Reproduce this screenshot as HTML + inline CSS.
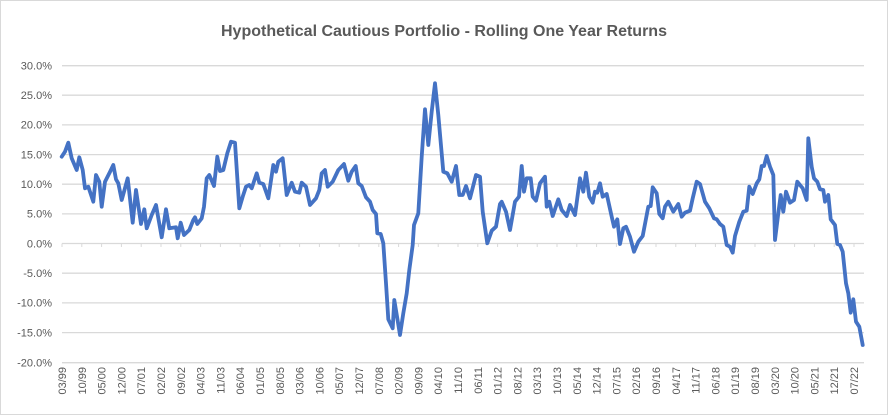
<!DOCTYPE html>
<html><head><meta charset="utf-8"><style>
html,body{margin:0;padding:0;background:#fff}
svg{display:block}
text{font-family:"Liberation Sans",sans-serif;fill:#595959}
</style></head><body>
<svg width="888" height="415" viewBox="0 0 888 415" xmlns="http://www.w3.org/2000/svg">
<rect x="0.5" y="0.5" width="887" height="414" fill="#fff" stroke="#d9d9d9"/>
<text x="444" y="36" text-anchor="middle" font-size="16" font-weight="bold" style="fill:#595959">Hypothetical Cautious Portfolio - Rolling One Year Returns</text>
<g stroke="#d9d9d9" stroke-width="1.3">
<line x1="62" x2="864" y1="65.7" y2="65.7"/><line x1="62" x2="864" y1="95.2" y2="95.2"/>
<line x1="62" x2="864" y1="124.9" y2="124.9"/><line x1="62" x2="864" y1="154.6" y2="154.6"/>
<line x1="62" x2="864" y1="184.2" y2="184.2"/><line x1="62" x2="864" y1="213.9" y2="213.9"/>
<line x1="62" x2="864" y1="243.5" y2="243.5"/><line x1="62" x2="864" y1="273.2" y2="273.2"/>
<line x1="62" x2="864" y1="302.9" y2="302.9"/><line x1="62" x2="864" y1="332.6" y2="332.6"/>
<line x1="62" x2="864" y1="362.7" y2="362.7"/>
</g>
<g font-size="11" text-anchor="end">
<text x="52" y="69.5">30.0%</text><text x="52" y="99">25.0%</text><text x="52" y="128.7">20.0%</text>
<text x="52" y="158.4">15.0%</text><text x="52" y="188">10.0%</text><text x="52" y="217.7">5.0%</text>
<text x="52" y="247.3">0.0%</text><text x="52" y="277">-5.0%</text><text x="52" y="306.7">-10.0%</text>
<text x="52" y="336.4">-15.0%</text><text x="52" y="366.5">-20.0%</text>
</g>
<g id="ticks" stroke="#d9d9d9" stroke-width="1"></g>
<g id="xl" font-size="11" text-anchor="end"></g>
<polyline fill="none" stroke="#4472C4" stroke-width="3.8" stroke-linejoin="round" stroke-linecap="round" points="
61.7,156.7 65,151.7 68.3,142.7 71.7,158.3 76.7,170 79.3,157.3 82.7,170 85,188.3 88.3,186.7 93.3,201.7 96,175 99.3,181.7 101.7,206.7 105,181.7 109.3,173.3 113.3,165 116,179.3 118.3,183.3 121.7,200 127.7,178.3 132.7,222.7 136,190 141,224 144.3,209.3 146.7,228.3 151.7,215 156,205 161.7,237.3 166,209.3 169.3,228.3 176,227.3 177.7,238.3 180.7,222.7 184,235 189.3,230 193.3,220 195,217.3 197.3,224 201.7,218.3 204,206.7 206.7,178.3 209.3,175 214,186 217.3,156.7 220,171 223.3,170 227.3,153.3 231,141.7 235,142.7 239.3,208.3 242.7,196.7 246,186.7 249.3,185 251.7,188.3 256.7,173.3 259.3,182.7 263.3,184 268.3,198.3 273.3,165 276,171.7 278.3,161.7 282.7,158.3 286.7,195 291.7,182.7 295,191.7 299.3,192.7 301.7,182.7 306,186.7 310,205 316,198.3 319.3,190 321.7,173.3 325,170 327.7,186.7 332.7,181.7 338.3,170 344,164 348.3,180.7 351.7,171.7 355.7,166 358.3,183.3 361.7,186 366,197.3 370,201.7 372.7,210 376,214 377.3,233.3 380.7,234 383.3,243.3 386,283.3 388.3,319.3 392.7,328.3 394.3,300 397.3,318.3 400,335 403.3,313.3 406.7,293.3 409.3,270 412.7,245 414,225 418.3,213.3 421.7,156.7 425,109.3 428.3,145 431.7,111.7 435,83.3 438.3,115 443.3,171.7 447.3,173.3 451.7,181.7 456,166 459.3,195 462.7,195 466,186 470,198.3 476,175 480,176.7 482.7,211.7 487.3,243.3 491.7,230.7 496,226.7 500,204 501.7,201.7 506,211.7 510,230 515,201.7 519,196.7 521.7,166 524,191.7 526.7,178.3 530.7,178.3 532.7,196.7 536,200.7 540,183.3 545,176.7 546.7,206.7 549.3,201.7 552.7,216 558.3,199.3 561.7,210 566.7,216 570,205 575,215 580,178.3 583.3,191.7 586,172.7 589.3,196.7 592.7,202.7 595,191.7 597.3,192.7 600,183.3 602.7,196.7 606.7,194 611.7,216.7 614,226.7 617.3,219.3 620,244 623.3,228.3 626,226.7 630,236.7 634,251.7 638.3,241.7 642.7,236 648.3,206.7 650.7,206 652.7,187.3 656.7,193.3 659.3,214 662.7,218.3 665,206.7 668.3,201.7 673.3,211.7 678.3,204 681.7,216.7 685,212.7 690,210.7 692.7,198.3 696.7,181.7 700,184 705,201.7 709.3,208.3 714,218.3 716.7,219.3 720,224 723.3,226.7 726.7,245 730,246.7 732.7,252.7 735,236 739.3,221.7 743.3,211.7 746.7,210.7 749.3,186.7 752.7,194 756.7,183.3 759.3,179.3 761.7,166 764,166 766.7,156 770,166.7 773.3,175 775,240 778.3,213.3 780.7,195 783.3,211.7 786,191.7 790,202.7 794,200 797.3,181.7 802.7,188.3 806.7,200 808.3,138.3 811.7,166.7 814,178.3 817.3,181.7 820,189.3 823.3,190 825,201.7 828.3,195 830.7,219.3 835,225 837.3,244 840,245 842.7,251.7 846,283.3 848.3,293.3 850.7,312.7 853.3,299.3 856,321.7 859.3,326.7 862.7,345"/>
<script>
var labs="03/99 10/99 05/00 12/00 07/01 02/02 09/02 04/03 11/03 06/04 01/05 08/05 03/06 10/06 05/07 12/07 07/08 02/09 09/09 04/10 11/10 06/11 01/12 08/12 03/13 10/13 05/14 12/14 07/15 02/16 09/16 04/17 11/17 06/18 01/19 08/19 03/20 10/20 05/21 12/21 07/22".split(" ");
var ns="http://www.w3.org/2000/svg",g=document.getElementById("xl"),t=document.getElementById("ticks");
labs.forEach(function(l,i){var x=62+19.8*i;
var e=document.createElementNS(ns,"text");e.setAttribute("transform","translate("+(x+4)+",367) rotate(-90)");e.textContent=l;g.appendChild(e);
var k=document.createElementNS(ns,"line");k.setAttribute("x1",x);k.setAttribute("x2",x);k.setAttribute("y1",243.5);k.setAttribute("y2",247);t.appendChild(k);});
</script>
</svg>
</body></html>
